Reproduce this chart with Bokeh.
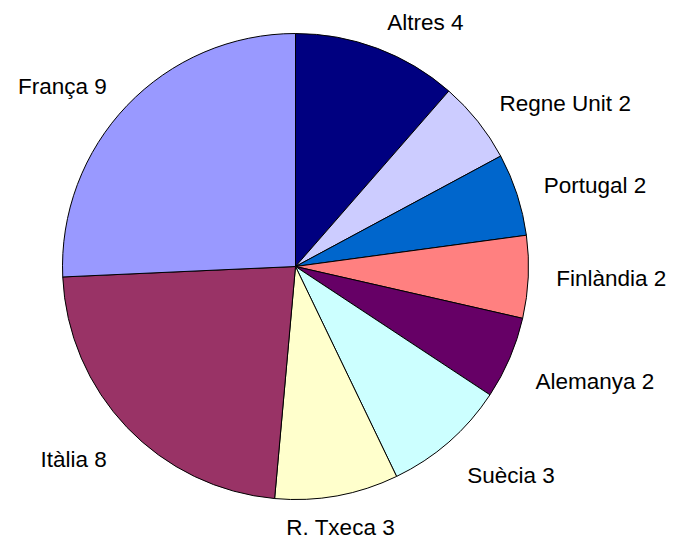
import math
from bokeh.plotting import figure
from bokeh.models import ColumnDataSource
from bokeh.core.properties import value
from bokeh.embed import file_html
from bokeh.resources import INLINE

# Data (clockwise from 12 o'clock)
categories = ["Altres", "Regne Unit", "Portugal", "Finlàndia", "Alemanya",
              "Suècia", "R. Txeca", "Itàlia", "França"]
values = [4, 2, 2, 2, 2, 3, 3, 8, 9]
colors = ["#000080", "#CCCCFF", "#0066CC", "#FF8080", "#660066",
          "#CCFFFF", "#FFFFCC", "#993366", "#9999FF"]

W, H = 675, 543
CX, CY, R = 295, 277, 233
GAP = 28
GAP_CENTER = 20

total = sum(values)
starts, ends, mids = [], [], []
acc = 0.0
for v in values:
    f0 = acc / total
    acc += v
    f1 = acc / total
    starts.append(math.pi / 2 - f0 * 2 * math.pi)
    ends.append(math.pi / 2 - f1 * 2 * math.pi)
    mids.append((f0 + f1) / 2 * 2 * math.pi)  # clockwise from top

src = ColumnDataSource(dict(start=starts, end=ends, color=colors,
                            x=[CX] * len(values), y=[CY] * len(values)))

p = figure(width=W, height=H, x_range=(0, W), y_range=(0, H),
           output_backend="svg", toolbar_location=None, min_border=0)
p.axis.visible = False
p.grid.visible = False
p.outline_line_color = None
p.background_fill_color = "white"

p.wedge(x="x", y="y", radius=R, start_angle="start", end_angle="end",
        direction="clock", fill_color="color", line_color="black",
        line_width=1, source=src)

for cat, v, a in zip(categories, values, mids):
    ux, uy = math.sin(a), math.cos(a)
    if abs(ux) < 0.3:
        align = "center"
        g = GAP_CENTER
    elif ux > 0:
        align = "left"
        g = GAP
    else:
        align = "right"
        g = GAP
    if abs(uy) < 0.35:
        base = "middle"
    elif uy > 0:
        base = "alphabetic"
    else:
        base = "top"
    ax = CX + ux * (R + g)
    ay = CY + uy * (R + g)
    p.text(x=[ax], y=[ay], text=[f"{cat} {v}"], text_align=align,
           text_baseline=base, text_font=value("Liberation Sans"),
           text_font_size="22.5px", text_color="black")

open("out.html", "w").write(file_html(p, INLINE))
